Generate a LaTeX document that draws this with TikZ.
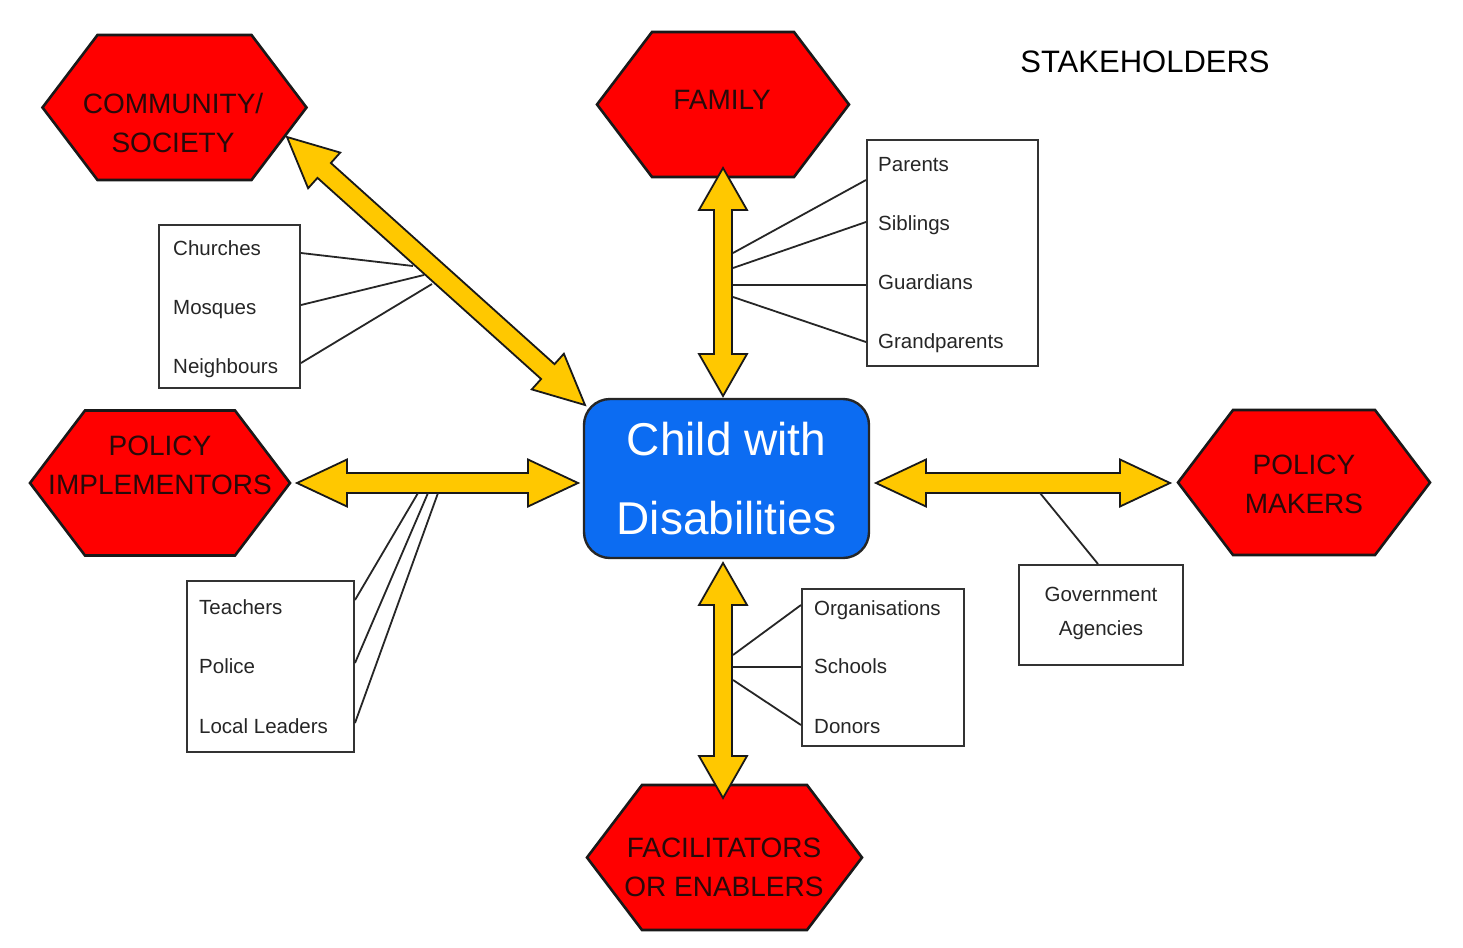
\documentclass[tikz,border=0pt]{standalone}
\usepackage{fontspec}
\setmainfont{Liberation Sans}
\usetikzlibrary{calc}
\definecolor{hexred}{RGB}{255,0,0}
\definecolor{arryel}{RGB}{255,200,0}
\definecolor{cblue}{RGB}{12,108,242}
\definecolor{txtdark}{RGB}{40,10,10}

% double block arrow: #1 tip A, #2 tip B, #3 head length, #4 head half width, #5 shaft half width
\newcommand\dblarrow[5]{%
  \filldraw[arrowsty] (#1)
    -- ($(#1)!#3!(#2)!#4!90:(#2)$)
    -- ($(#1)!#3!(#2)!#5!90:(#2)$)
    -- ($(#2)!#3!(#1)!#5!-90:(#1)$)
    -- ($(#2)!#3!(#1)!#4!-90:(#1)$)
    -- (#2)
    -- ($(#2)!#3!(#1)!#4!90:(#1)$)
    -- ($(#2)!#3!(#1)!#5!90:(#1)$)
    -- ($(#1)!#3!(#2)!#5!-90:(#2)$)
    -- ($(#1)!#3!(#2)!#4!-90:(#2)$)
    -- cycle;}

% hexagon: #1 name, #2 cx, #3 cy, #4 half width
\newcommand\hexshape[4]{%
  \coordinate (#1) at (#2,#3);
  \draw[hexsty] (#1) ++(-#4,0) -- ++(55,-72.5) -- ++({2*#4-110},0)
    -- ++(55,72.5) -- ++(-55,72.5) -- ++({-(2*#4-110)},0) -- cycle;}

\begin{document}
\begin{tikzpicture}[x=1pt,y=-1pt,
  hexsty/.style={fill=hexred, draw=black!90, line width=2.6pt, line join=miter},
  hextxt/.style={inner sep=0pt, align=center, text=txtdark, font=\fontsize{28}{39}\selectfont},
  arrowsty/.style={fill=arryel, draw=black!90, line width=1.8pt, line join=miter},
  itembox/.style={draw=black!80, line width=2pt, fill=white, inner sep=0pt},
  itemtxt/.style={inner sep=0pt, text=black!85, font=\fontsize{20.5}{24}\selectfont},
  thin/.style={draw=black!85, line width=1.8pt},
  centre/.style={fill=cblue, draw=black!85, line width=2.4pt, rounded corners=26pt,
     minimum width=285pt, minimum height=159pt, align=center, text=white, inner sep=0pt,
     font=\fontsize{46}{79}\selectfont}]

\fill[white] (0,0) rectangle (1463,947);
\useasboundingbox (0,0) rectangle (1463,947);

% title
\node[inner sep=0pt, font=\fontsize{31}{36}\selectfont] (title) at (1145,62) {STAKEHOLDERS};

% hexagons
\hexshape{comm}{174.5}{107.5}{132}
\hexshape{fam}{723}{104.5}{126}
\hexshape{polimp}{160}{483}{130}
\hexshape{polmak}{1304}{482.5}{126}
\hexshape{fac}{724.5}{857.5}{137.5}

\node[hextxt] (commT) at (173,123) {COMMUNITY/\\SOCIETY};
\node[hextxt] (famT) at (722,100) {FAMILY};
\node[hextxt] (polimpT) at (160,465) {POLICY\\IMPLEMENTORS};
\node[hextxt] (polmakT) at (1304,484) {POLICY\\MAKERS};
\node[hextxt] (facT) at (724,867) {FACILITATORS\\OR ENABLERS};

% central box
\node[centre] (child) at (726.5,478.5) {Child with\\Disabilities};

% arrow ends
\coordinate (dA) at (287,137);   \coordinate (dB) at (585,405);
\coordinate (tA) at (723,168);   \coordinate (tB) at (723,396);
\coordinate (bA) at (723,563);   \coordinate (bB) at (723,798);
\coordinate (lA) at (297,483);   \coordinate (lB) at (578,483);
\coordinate (rA) at (876,483);   \coordinate (rB) at (1170,483);

\dblarrow{dA}{dB}{50pt}{24pt}{10pt}
\dblarrow{tA}{tB}{42pt}{24pt}{9pt}
\dblarrow{bA}{bB}{42pt}{24pt}{9pt}
\dblarrow{lA}{lB}{50pt}{23.5pt}{10pt}
\dblarrow{rA}{rB}{50pt}{23.5pt}{10pt}

% item boxes
\node[itembox, minimum width=141pt, minimum height=163pt] (chbox) at (229.5,306.5) {};
\node[itembox, minimum width=171pt, minimum height=226pt] (fambox) at (952.5,253) {};
\node[itembox, minimum width=167pt, minimum height=171pt] (teabox) at (270.5,666.5) {};
\node[itembox, minimum width=162pt, minimum height=157pt] (orgbox) at (883,667.5) {};
\node[itembox, minimum width=164pt, minimum height=100pt] (govbox) at (1101,615) {};

\node[itemtxt, anchor=mid west] (churches) at (173,253) {Churches};
\node[itemtxt, anchor=mid west] (mosques) at (173,312) {Mosques};
\node[itemtxt, anchor=mid west] (neigh) at (173,371) {Neighbours};

\node[itemtxt, anchor=mid west] (parents) at (878,169) {Parents};
\node[itemtxt, anchor=mid west] (siblings) at (878,228) {Siblings};
\node[itemtxt, anchor=mid west] (guard) at (878,287) {Guardians};
\node[itemtxt, anchor=mid west] (grand) at (878,346) {Grandparents};

\node[itemtxt, anchor=mid west] (teach) at (199,612) {Teachers};
\node[itemtxt, anchor=mid west] (police) at (199,671) {Police};
\node[itemtxt, anchor=mid west] (local) at (199,731) {Local Leaders};

\node[itemtxt, anchor=mid west] (orgs) at (814,613) {Organisations};
\node[itemtxt, anchor=mid west] (schools) at (814,671) {Schools};
\node[itemtxt, anchor=mid west] (donors) at (814,731) {Donors};

\node[itemtxt, align=center, font=\fontsize{20.5}{34}\selectfont] (gov) at (1101,613) {Government\\Agencies};

% connector lines (free ends on the arrows)
\coordinate (ch1) at (413,266); \coordinate (ch2) at (424,275); \coordinate (ch3) at (432,284);
\draw[thin] (chbox.east |- 0,253) -- (ch1);
\draw[thin] (chbox.east |- 0,305) -- (ch2);
\draw[thin] (chbox.east |- 0,363) -- (ch3);

\coordinate (fa1) at (733,253); \coordinate (fa2) at (733,268);
\coordinate (fa3) at (733,285); \coordinate (fa4) at (733,297);
\draw[thin] (fa1) -- (fambox.west |- 0,180);
\draw[thin] (fa2) -- (fambox.west |- 0,222);
\draw[thin] (fa3) -- (fambox.west |- 0,285);
\draw[thin] (fa4) -- (fambox.west |- 0,342);

\coordinate (te1) at (418,493); \coordinate (te2) at (428,493); \coordinate (te3) at (438,493);
\draw[thin] (teabox.east |- 0,600) -- (te1);
\draw[thin] (teabox.east |- 0,663) -- (te2);
\draw[thin] (teabox.east |- 0,723) -- (te3);

\coordinate (or1) at (733,655); \coordinate (or2) at (733,667); \coordinate (or3) at (733,680);
\draw[thin] (or1) -- (orgbox.west |- 0,605);
\draw[thin] (or2) -- (orgbox.west |- 0,667);
\draw[thin] (or3) -- (orgbox.west |- 0,725);

\coordinate (gv1) at (1040,493);
\draw[thin] (gv1) -- (govbox.north -| 1098,0);
\end{tikzpicture}
\end{document}
